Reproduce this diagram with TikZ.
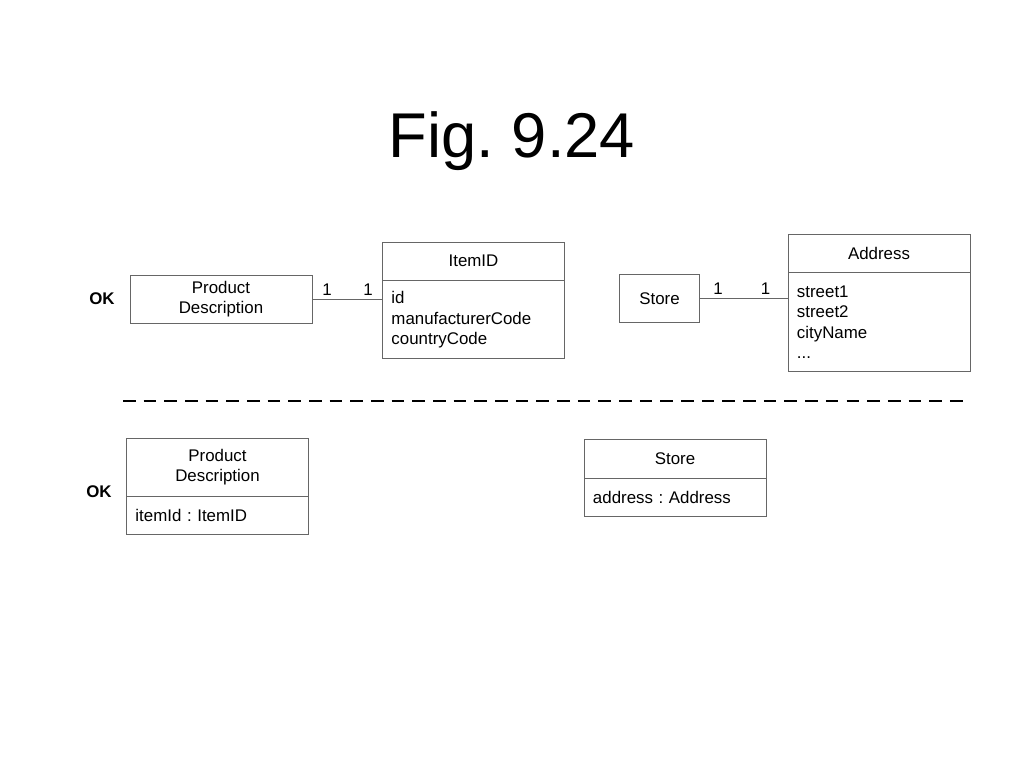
\documentclass[tikz,border=0pt]{standalone}
\usepackage{fontspec}
\setmainfont{Liberation Sans}
\usetikzlibrary{positioning}
\frenchspacing

\begin{document}
\begin{tikzpicture}[x=0.025cm,y=-0.025cm,
  every node/.style={font=\fontsize{12}{14.5}\selectfont},
  class/.style={draw=black!60,line width=0.6pt,minimum width=4.55cm,align=center,inner sep=0pt},
  attrs/.style={class,text width=4.1cm,align=left,inner xsep=0.225cm},
  link/.style={draw=black!60,line width=0.6pt},
  mult/.style={above,inner sep=2.5pt},
  ok/.style={font=\fontsize{12}{14.5}\selectfont\bfseries}]

  \useasboundingbox (0,0) rectangle (1024,768);

  \node[font=\fontsize{45}{54}\selectfont,anchor=base] (title) at (512,158) {Fig. 9.24};

  % upper half: associations
  \node[ok] (ok1) at (102,299) {OK};
  \node[class,minimum height=1.2cm] (pd1) at (221,299) {Product\\Description};
  \node[class,minimum height=0.95cm] (itemid) at (473.5,261) {ItemID};
  \node[attrs,minimum height=1.95cm,below=0pt of itemid] (itemidattr)
    {id\\manufacturerCode\\countryCode};
  \draw[link] (pd1.east) -- (pd1.east -| itemidattr.west)
    node[mult,pos=0.21] {1} node[mult,pos=0.8] {1};

  \node[class,minimum width=1.98cm,minimum height=1.18cm] (store1) at (659.5,298.5) {Store};
  \node[class,minimum height=0.95cm] (address) at (879,253) {Address};
  \node[attrs,minimum height=2.475cm,below=0pt of address] (addressattr)
    {street1\\street2\\cityName\\...};
  \draw[link] (store1.east) -- (store1.east -| addressattr.west)
    node[mult,pos=0.21] {1} node[mult,pos=0.75] {1};

  % separator
  \draw[line width=1.3pt,dash pattern=on 9pt off 5.7pt] (123,401) -- (965,401);

  % lower half: attributes
  \node[ok] (ok2) at (99,492) {OK};
  \node[class,minimum height=1.45cm] (pd2) at (217.5,467) {Product\\Description};
  \node[attrs,minimum height=0.95cm,below=0pt of pd2] (pd2attr) {itemId : ItemID};

  \node[class,minimum height=0.975cm] (store2) at (675,458.5) {Store};
  \node[attrs,minimum height=0.95cm,below=0pt of store2] (store2attr) {address : Address};
\end{tikzpicture}
\end{document}
